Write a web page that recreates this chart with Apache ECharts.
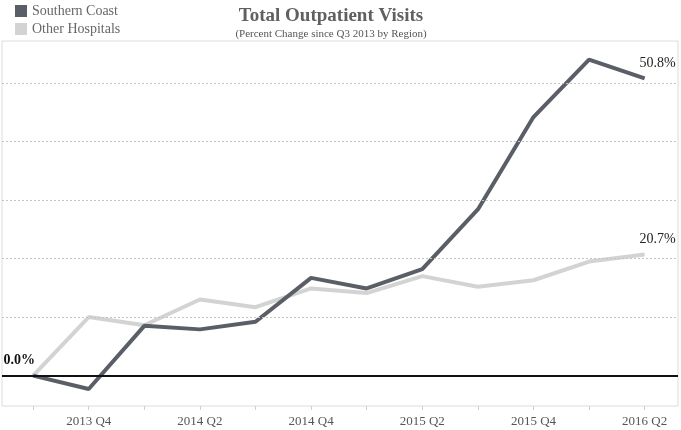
<!DOCTYPE html>
<html>
<head>
<meta charset="utf-8">
<script src="https://cdn.jsdelivr.net/npm/echarts@6/dist/echarts.min.js"></script>
<style>
  html, body { margin: 0; padding: 0; background: #fff; }
  #main { width: 681px; height: 430px; }
</style>
</head>
<body>
<div id="main"></div>
<script>
// quarters since Q3 2013
const quarters = ['2013 Q3', '2013 Q4', '2014 Q1', '2014 Q2', '2014 Q3', '2014 Q4',
  '2015 Q1', '2015 Q2', '2015 Q3', '2015 Q4', '2016 Q1', '2016 Q2']
const southernCoast = [0, -2.3, 8.5, 7.9, 9.2, 16.7, 14.9, 18.2, 28.4, 44.2, 54.0, 50.8]
const otherHospitals = [0, 10.0, 8.6, 13.0, 11.7, 14.9, 14.1, 17.0, 15.2, 16.3, 19.5, 20.7]
const labelQuarters = [1, 3, 5, 7, 9, 11]
const gridValues = [10, 20, 30, 40, 50]

const serif = '"Liberation Serif", "DejaVu Serif", serif'
const last = quarters.length - 1

function toPoints (vals, endLabel, startLabel) {
  return vals.map((v, i) => {
    let item = { value: [i, v] }
    if (i === last && endLabel) {
      item.label = {
        show: true, position: 'top', distance: 8, offset: [13, 0],
        formatter: v.toFixed(1) + '%', fontFamily: serif, fontSize: 14, color: '#222'
      }
    }
    if (i === 0 && startLabel) {
      item.label = {
        show: true, position: 'top', distance: 8, offset: [-14, 0],
        formatter: v.toFixed(1) + '%', fontFamily: serif, fontSize: 14,
        fontWeight: 'bold', color: '#111'
      }
    }
    return item
  })
}

const chart = echarts.init(document.getElementById('main'))
chart.setOption({
  animation: false,
  title: {
    text: 'Total Outpatient Visits',
    subtext: '(Percent Change since Q3 2013 by Region)',
    left: 326,
    textAlign: 'center',
    top: 2,
    itemGap: 3,
    textStyle: { fontFamily: serif, fontSize: 19, fontWeight: 'bold', color: '#606060' },
    subtextStyle: { fontFamily: serif, fontSize: 11, color: '#555' }
  },
  legend: {
    data: ['Southern Coast', 'Other Hospitals'],
    orient: 'vertical',
    left: 10,
    top: -1,
    itemWidth: 12,
    itemHeight: 12,
    itemGap: 4,
    icon: 'rect',
    textStyle: { fontFamily: serif, fontSize: 14, color: '#666', lineHeight: 14 }
  },
  grid: {
    left: 2, right: 3, top: 41, bottom: 24,
    show: true, borderColor: '#dcdcdc', borderWidth: 1
  },
  xAxis: {
    type: 'value',
    min: -0.56,
    max: 11.6,
    axisLine: { show: false, onZero: false },
    splitLine: { show: false },
    axisTick: {
      show: true, length: 4, lineStyle: { color: '#cfcfcf' },
      customValues: quarters.map((q, i) => i)
    },
    axisLabel: {
      customValues: labelQuarters,
      formatter: v => quarters[v],
      margin: 9,
      fontFamily: serif,
      fontSize: 13,
      color: '#555'
    }
  },
  yAxis: {
    type: 'value',
    min: -5.2,
    max: 57.2,
    axisLine: { show: false },
    axisTick: { show: false },
    axisLabel: { show: false },
    splitLine: { show: false }
  },
  series: [
    {
      name: 'grid',
      type: 'line',
      data: [],
      silent: true,
      markLine: {
        silent: true,
        symbol: 'none',
        label: { show: false },
        data: gridValues.map(v => ({ yAxis: v, lineStyle: { color: '#c4c4c4', type: [2, 2], width: 1 } }))
          .concat([{ yAxis: 0, lineStyle: { color: '#111', type: 'solid', width: 2 } }])
      }
    },
    {
      name: 'Other Hospitals',
      type: 'line',
      data: toPoints(otherHospitals, true, false),
      showSymbol: true,
      symbol: 'circle',
      symbolSize: 0,
      color: '#d3d3d3',
      lineStyle: { width: 4, color: '#d3d3d3' },
      z: 3
    },
    {
      name: 'Southern Coast',
      type: 'line',
      data: toPoints(southernCoast, true, true),
      showSymbol: true,
      symbol: 'circle',
      symbolSize: 0,
      color: '#5a5e66',
      lineStyle: { width: 4, color: '#5a5e66' },
      z: 4
    }
  ]
})
</script>
</body>
</html>
